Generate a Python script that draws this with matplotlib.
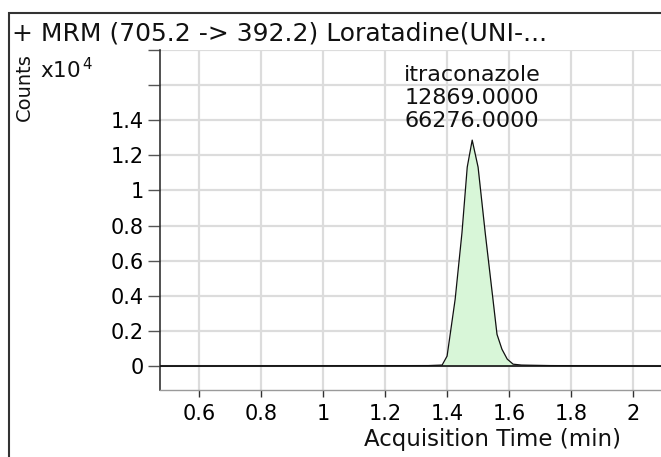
import matplotlib
matplotlib.use("Agg")
import matplotlib.pyplot as plt
from matplotlib.patches import Rectangle

# ---- data ----
title = "+ MRM (705.2 -> 392.2) Loratadine(UNI-..."
compound = "itraconazole"
peak_height_label = "12869.0000"
peak_area_label = "66276.0000"

trace_time = [0.47, 1.339, 1.384, 1.400, 1.426, 1.448, 1.465, 1.481, 1.500,
              1.523, 1.548, 1.561, 1.577, 1.594, 1.613, 1.640, 1.668, 1.732, 2.09]
trace_counts = [0, 30, 60, 570, 3800, 7590, 11330, 12869, 11330,
                7590, 3800, 1810, 960, 400, 110, 60, 50, 30, 0]
fill_start, fill_end = 1.384, 1.613
peak_time = 1.481
peak_counts = 12869

xticks = [0.6, 0.8, 1.0, 1.2, 1.4, 1.6, 1.8, 2.0]
xtick_labels = ["0.6", "0.8", "1", "1.2", "1.4", "1.6", "1.8", "2"]
yticks = [0, 2000, 4000, 6000, 8000, 10000, 12000, 14000, 16000, 18000]
ytick_labels = ["0", "0.2", "0.4", "0.6", "0.8", "1", "1.2", "1.4", "", ""]

W, H = 661, 457
fig = plt.figure(figsize=(W / 100, H / 100), dpi=100)
fig.patch.set_facecolor("white")

# outer frame
fig.patches.append(Rectangle((9 / W, -0.1), 1.2, 1 - 13 / H + 0.1,
                             transform=fig.transFigure, fill=False,
                             edgecolor="#333333", linewidth=1.5))

ax = fig.add_axes([160 / W, 1 - 390 / H, 1 - 160 / W, (390 - 50) / H])
ax.set_xlim(0.474, 2.09)
ax.set_ylim(-1360, 18000)

ax.grid(True, color="#dcdcdc", linewidth=1.6)
ax.set_axisbelow(True)

ax.set_xticks(xticks)
ax.set_xticklabels(xtick_labels)
ax.set_yticks(yticks)
ax.set_yticklabels(ytick_labels)
ax.tick_params(axis="y", direction="out", length=8.5, width=1, color="#555555",
               labelsize=15, pad=3)
ax.tick_params(axis="x", direction="out", length=5, width=1, color="#333333",
               labelsize=15, pad=5)

for s in ["top", "right"]:
    ax.spines[s].set_visible(False)
ax.spines["left"].set_color("#333333")
ax.spines["left"].set_linewidth(1.2)
ax.spines["bottom"].set_color("#9a9a9a")
ax.spines["bottom"].set_linewidth(1.0)

ax.axhline(0, color="#222222", linewidth=1.3, zorder=3)

# fill under peak
ft = [t for t in trace_time if fill_start <= t <= fill_end]
fc = [c for t, c in zip(trace_time, trace_counts) if fill_start <= t <= fill_end]
ax.fill_between(ft, 0, fc, color="#d8f6d8", zorder=2, linewidth=0)
ax.plot(trace_time, trace_counts, color="#111111", linewidth=0.9, zorder=4)

ax.text(peak_time, peak_counts + 500,
        compound + "\n" + peak_height_label + "\n" + peak_area_label,
        ha="center", va="bottom", fontsize=16, linespacing=1.2, color="#111111")

fig.text(12 / W, 1 - 33 / H, title, ha="left", va="center", fontsize=18,
         color="#111111")
fig.text(24 / W, 1 - 87 / H, "Counts", rotation=90, ha="center", va="center",
         fontsize=14, color="#111111")
fig.text(40 / W, 1 - 70 / H, r"x10$^{\,4}$", ha="left", va="center", fontsize=15.5,
         color="#111111")
ax.set_xlabel("Acquisition Time (min)", fontsize=16.5, color="#111111")
ax.xaxis.set_label_coords((492 - 160) / (W - 160), -0.112)

fig.savefig("out.png", dpi=100)
